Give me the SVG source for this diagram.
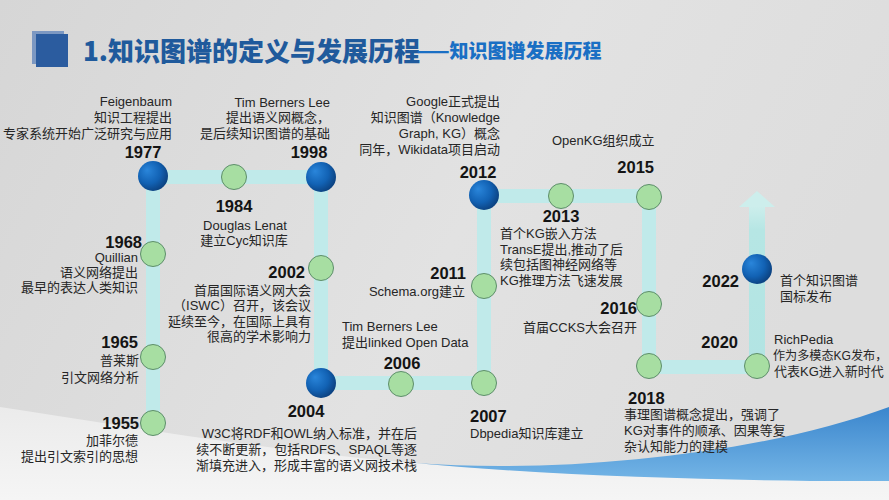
<svg xmlns="http://www.w3.org/2000/svg" width="889" height="500" viewBox="0 0 889 500">
<defs>
<linearGradient id="bg" x1="0" y1="0" x2="1" y2="0.3">
<stop offset="0" stop-color="#d6d6d6"/>
<stop offset="0.6" stop-color="#e2e2e2"/>
<stop offset="1" stop-color="#dddddd"/>
</linearGradient>
<linearGradient id="low" x1="0" y1="0" x2="0" y2="1">
<stop offset="0" stop-color="#ebebeb"/>
<stop offset="1" stop-color="#f5f5f5"/>
</linearGradient>
<linearGradient id="swoosh" x1="0" y1="0" x2="0" y2="1">
<stop offset="0" stop-color="#3b86cd"/>
<stop offset="1" stop-color="#74b5e6"/>
</linearGradient>
<radialGradient id="blue" cx="0.4" cy="0.4" r="0.65" fx="0.3" fy="0.3">
<stop offset="0" stop-color="#2a86db"/>
<stop offset="0.6" stop-color="#1262b4"/>
<stop offset="1" stop-color="#0b3f7c"/>
</radialGradient>
<linearGradient id="arrowg" x1="0" y1="0" x2="0" y2="1">
<stop offset="0" stop-color="#cdeeec"/>
<stop offset="0.15" stop-color="#b6e6e4"/>
<stop offset="1" stop-color="#b2e4e3"/>
</linearGradient>
<style>
.t{font-family:"Liberation Sans","Noto Sans CJK SC",sans-serif;font-size:13px;fill:#262626}
.y{font-family:"Liberation Sans","Noto Sans CJK SC",sans-serif;font-size:16.5px;font-weight:bold;fill:#141414}
.e{text-anchor:end}
.m{text-anchor:middle}
.g{fill:#a7dea2;stroke:#5d8e6a;stroke-width:1}
.b{fill:url(#blue)}
</style>
</defs>
<rect x="0" y="0" width="889" height="500" fill="url(#bg)"/>
<path d="M0,407 C120,425 260,450 415,463 C560,476 760,481 889,480 L889,500 L0,500 Z" fill="url(#low)"/>
<path d="M415,463 C560,474 760,455 889,407 L889,481 C760,482 560,477 415,463 Z" fill="url(#swoosh)"/>
<g id="title">
<rect x="32" y="31" width="32" height="33" fill="#7c98c2"/>
<rect x="36" y="34" width="32" height="33" fill="#2b5c9f"/>
<text x="83" y="61" font-family="Noto Sans CJK SC,sans-serif" font-size="26" font-weight="900" fill="#1f5a9c">1.知识图谱的定义与发展历程</text>
<text x="417" y="58" font-family="Noto Sans CJK SC,sans-serif" font-size="19" font-weight="900" fill="#1a6fc4">——知识图谱发展历程</text>
</g>
<g id="connectors">
<polyline points="153,423 153,177 321,177 321,383 484,383 484,196 649,196 649,367 757,367 757,300" fill="none" stroke="#c0eaea" stroke-width="14" stroke-linejoin="miter"/>
<rect x="749" y="206" width="16" height="161" fill="url(#arrowg)"/>
<polygon points="739,207 757,191 775,207" fill="#cdeeec"/>
</g>
<g id="n1955"><circle class="g" cx="153" cy="423" r="12.5"/>
<text class="y e" x="139" y="429">1955</text>
<text class="t e" x="138" y="445">加菲尔德</text>
<text class="t e" x="138" y="461">提出引文索引的思想</text></g>
<g id="n1965"><circle class="g" cx="153" cy="357" r="12.5"/>
<text class="y e" x="138" y="348">1965</text>
<text class="t e" x="139" y="365">普莱斯</text>
<text class="t e" x="139" y="382">引文网络分析</text></g>
<g id="n1968"><circle class="g" cx="153" cy="254" r="12.5"/>
<text class="y e" x="142" y="248">1968</text>
<text class="t e" x="138" y="262">Quillian</text>
<text class="t e" x="138" y="277">语义网络提出</text>
<text class="t e" x="138" y="292">最早的表达人类知识</text></g>
<g id="n1977"><circle class="b" cx="153" cy="176" r="15"/>
<text class="y m" x="143" y="158">1977</text>
<text class="t e" x="172" y="106">Feigenbaum</text>
<text class="t e" x="172" y="122">知识工程提出</text>
<text class="t e" x="172" y="138">专家系统开始广泛研究与应用</text></g>
<g id="n1984"><circle class="g" cx="234" cy="177" r="12.5"/>
<text class="y m" x="234" y="212">1984</text>
<text class="t m" x="245" y="230">Douglas Lenat</text>
<text class="t m" x="244" y="245">建立Cyc知识库</text></g>
<g id="n1998"><circle class="b" cx="321" cy="177" r="15"/>
<text class="y m" x="309" y="158">1998</text>
<text class="t e" x="330" y="107">Tim Berners Lee</text>
<text class="t e" x="330" y="122">提出语义网概念，</text>
<text class="t e" x="330" y="138">是后续知识图谱的基础</text></g>
<g id="n2002"><circle class="g" cx="321" cy="268" r="12.5"/>
<text class="y e" x="305" y="278">2002</text>
<text class="t e" x="311" y="295">首届国际语义网大会</text>
<text class="t e" x="311" y="310">（ISWC）召开，该会议</text>
<text class="t e" x="311" y="326">延续至今，在国际上具有</text>
<text class="t e" x="311" y="341">很高的学术影响力</text></g>
<g id="n2004"><circle class="b" cx="321" cy="383" r="15"/>
<text class="y m" x="306" y="417">2004</text>
<text class="t e" x="417" y="438">W3C将RDF和OWL纳入标准，并在后</text>
<text class="t e" x="417" y="454">续不断更新，包括RDFS、SPAQL等逐</text>
<text class="t e" x="417" y="470">渐填充进入，形成丰富的语义网技术栈</text></g>
<g id="n2006"><circle class="g" cx="401" cy="384" r="12.5"/>
<text class="y m" x="402" y="369">2006</text>
<text class="t" x="342" y="331">Tim Berners Lee</text>
<text class="t" x="342" y="347">提出linked Open Data</text></g>
<g id="n2007"><circle class="g" cx="484" cy="383" r="12.5"/>
<text class="y" x="470" y="422">2007</text>
<text class="t" x="470" y="438">Dbpedia知识库建立</text></g>
<g id="n2011"><circle class="g" cx="484" cy="286" r="12.5"/>
<text class="y e" x="466" y="279">2011</text>
<text class="t e" x="465" y="296">Schema.org建立</text></g>
<g id="n2012"><circle class="b" cx="484" cy="195" r="15"/>
<text class="y m" x="478" y="178">2012</text>
<text class="t e" x="500" y="106">Google正式提出</text>
<text class="t e" x="500" y="122">知识图谱（Knowledge</text>
<text class="t e" x="500" y="138">Graph, KG）概念</text>
<text class="t e" x="500" y="154">同年，Wikidata项目启动</text></g>
<g id="n2013"><circle class="g" cx="561" cy="196" r="12.5"/>
<text class="y m" x="561" y="222">2013</text>
<text class="t" x="500" y="238">首个KG嵌入方法</text>
<text class="t" x="500" y="254">TransE提出,推动了后</text>
<text class="t" x="500" y="269">续包括图神经网络等</text>
<text class="t" x="500" y="285">KG推理方法飞速发展</text></g>
<g id="n2015"><circle class="g" cx="649" cy="197" r="12.5"/>
<text class="y e" x="654" y="173">2015</text>
<text class="t" x="552" y="145">OpenKG组织成立</text></g>
<g id="n2016"><circle class="g" cx="649" cy="304" r="12.5"/>
<text class="y e" x="637" y="314">2016</text>
<text class="t e" x="637" y="332">首届CCKS大会召开</text></g>
<g id="n2018"><circle class="g" cx="649" cy="366" r="12.5"/>
<text class="y" x="628" y="404">2018</text>
<text class="t" x="624" y="419">事理图谱概念提出，强调了</text>
<text class="t" x="624" y="435">KG对事件的顺承、因果等复</text>
<text class="t" x="624" y="451">杂认知能力的建模</text></g>
<g id="n2020"><circle class="g" cx="757" cy="366" r="12.5"/>
<text class="y e" x="738" y="348">2020</text>
<text class="t" x="774" y="344">RichPedia</text>
<text class="t" x="773" y="360" style="font-size:12.1px">作为多模态KG发布，</text>
<text class="t" x="774" y="376">代表KG进入新时代</text></g>
<g id="n2022"><circle class="b" cx="757" cy="269" r="15"/>
<text class="y e" x="739" y="287">2022</text>
<text class="t" x="780" y="285">首个知识图谱</text>
<text class="t" x="780" y="301">国标发布</text></g>
</svg>
